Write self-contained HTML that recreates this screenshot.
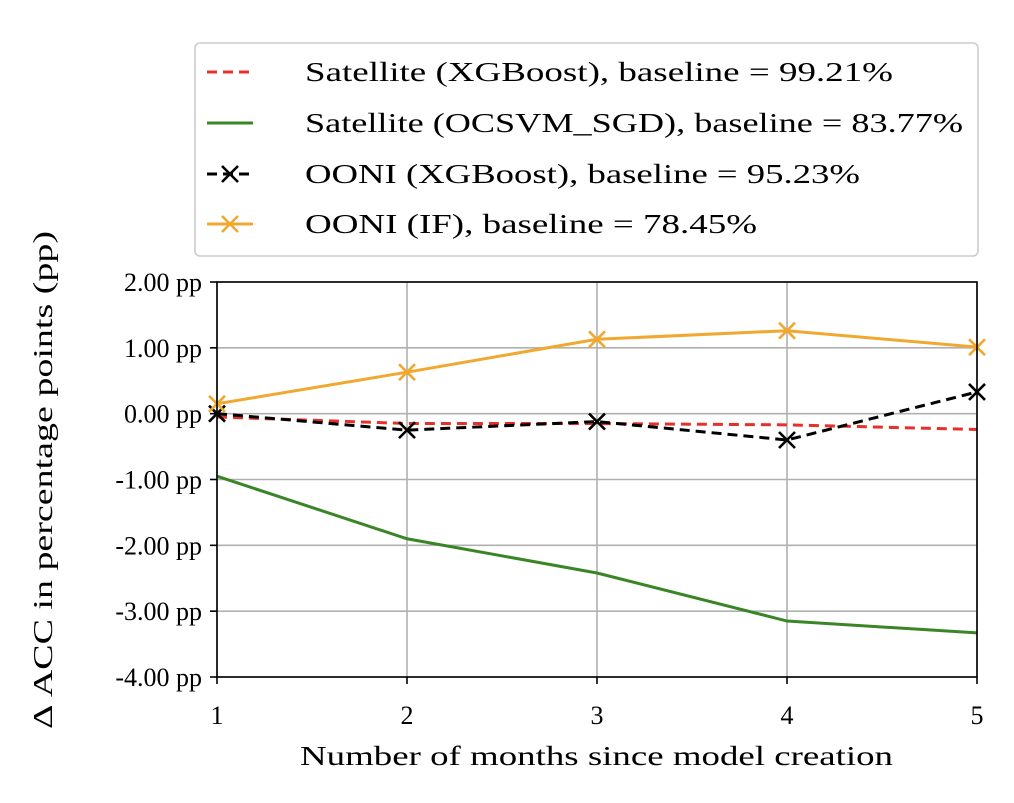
<!DOCTYPE html>
<html><head><meta charset="utf-8"><style>
body{margin:0;background:#fff}
svg text{font-family:"Liberation Serif","DejaVu Serif",serif;fill:#000}
</style></head><body>
<svg id="chart" width="1014" height="798" viewBox="0 0 1014 798" xmlns="http://www.w3.org/2000/svg">
<g id="grid"></g><g id="series"></g><g id="axes"></g><g id="legend"></g>
</svg>
<script>
const months=[1,2,3,4,5];
const yTicks=[2,1,0,-1,-2,-3,-4];
const yTickLabels=["2.00 pp","1.00 pp","0.00 pp","-1.00 pp","-2.00 pp","-3.00 pp","-4.00 pp"];
const satXgb=[-0.05,-0.15,-0.15,-0.17,-0.24];
const satOcsvm=[-0.95,-1.90,-2.42,-3.15,-3.33];
const ooniXgb=[0.0,-0.25,-0.12,-0.40,0.33];
const ooniIf=[0.15,0.63,1.13,1.26,1.01];
const legendLabels=["Satellite (XGBoost), baseline = 99.21%","Satellite (OCSVM_SGD), baseline = 83.77%","OONI (XGBoost), baseline = 95.23%","OONI (IF), baseline = 78.45%"];
const legendWidths=[588,658,555,452];
const NS="http://www.w3.org/2000/svg";
const L=217,R=977,T=282,B=677;
const x=v=>L+(v-1)/4*(R-L);
const y=v=>T+(2-v)/6*(B-T);
function mk(tag,attrs,parent){const e=document.createElementNS(NS,tag);for(const k in attrs)e.setAttribute(k,attrs[k]);parent.appendChild(e);return e;}
const grid=document.getElementById('grid'),axes=document.getElementById('axes'),ser=document.getElementById('series'),leg=document.getElementById('legend');
months.forEach(m=>{const g=mk('line',{x1:x(m),x2:x(m),y1:T,y2:B,stroke:'#b0b0b0','stroke-width':1.6},grid);

const t=mk('text',{x:x(m),y:724,'text-anchor':'middle','font-size':26},axes);t.textContent=m;
});
yTicks.forEach((v,i)=>{const g=mk('line',{x1:L,x2:R,y1:y(v),y2:y(v),stroke:'#b0b0b0','stroke-width':1.6},grid);

mk('line',{x1:L-7,x2:L,y1:y(v),y2:y(v),stroke:'#000','stroke-width':1.6},axes);
const t=mk('text',{x:202,y:y(v)+9,'text-anchor':'end','font-size':26},axes);t.textContent=yTickLabels[i];
});
months.forEach(m=>mk('line',{x1:x(m),x2:x(m),y1:B,y2:B+7,stroke:'#000','stroke-width':1.6},axes));
const fr=mk('rect',{x:L,y:T,width:R-L,height:B-T,fill:'none',stroke:'#000','stroke-width':1.6},axes);

const xt=mk('text',{x:300,y:765,'font-size':27,textLength:593,lengthAdjust:'spacingAndGlyphs'},axes);xt.textContent='Number of months since model creation';

const yt=mk('text',{x:-249,y:0,'font-size':27,textLength:498,lengthAdjust:'spacingAndGlyphs',transform:'translate(52,480) rotate(-90)'},axes);yt.textContent='Δ ACC in percentage points (pp)';

const specs=[{d:satXgb,c:'#e8302a',dash:'10,6',m:false,n:'satellite-xgboost-line'},{d:satOcsvm,c:'#3a8526',dash:'',m:false,n:'satellite-ocsvm-line'},{d:ooniXgb,c:'#000',dash:'10,6',m:true,n:'ooni-xgboost-line'},{d:ooniIf,c:'#f0a830',dash:'',m:true,n:'ooni-if-line'}];
function cross(cx,cy,c,p){const s=8;const g=mk('path',{d:`M${cx-s},${cy-s}L${cx+s},${cy+s}M${cx-s},${cy+s}L${cx+s},${cy-s}`,stroke:c,'stroke-width':2.6,fill:'none'},p);return g;}
specs.forEach(s=>{const pl=mk('polyline',{points:s.d.map((v,i)=>x(months[i])+','+y(v)).join(' '),fill:'none',stroke:s.c,'stroke-width':3,'stroke-dasharray':s.dash},ser);

if(s.m)s.d.forEach((v,i)=>{const c=cross(x(months[i]),y(v),s.c,ser);});});
const lb=mk('rect',{x:195,y:43,width:783,height:213,rx:5,fill:'#fff',stroke:'#ccc','stroke-width':1.6},leg);

const ly=[72,123,174,224];
specs.forEach((s,i)=>{const l=mk('line',{x1:207,x2:253,y1:ly[i],y2:ly[i],stroke:s.c,'stroke-width':3,'stroke-dasharray':s.dash},leg);

if(s.m)cross(230,ly[i],s.c,leg);
const t=mk('text',{x:305,y:ly[i]+9,'font-size':27,textLength:legendWidths[i],lengthAdjust:'spacingAndGlyphs'},leg);t.textContent=legendLabels[i];
});
</script>
</body></html>
